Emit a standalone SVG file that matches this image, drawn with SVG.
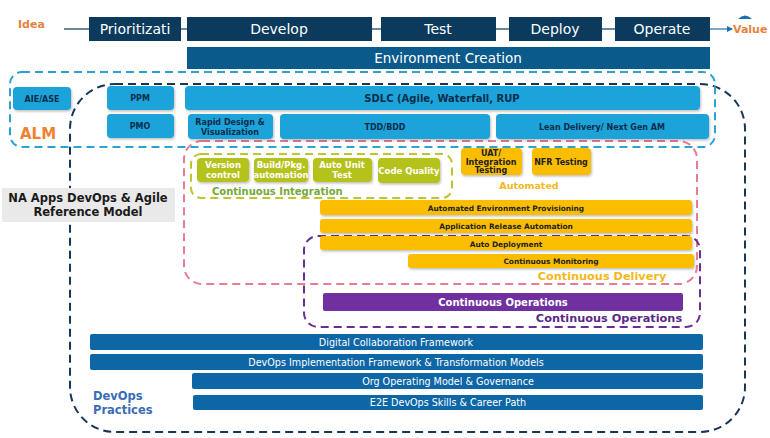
<svg xmlns="http://www.w3.org/2000/svg" width="770" height="438" viewBox="0 0 770 438">
<style>
text{font-family:"DejaVu Sans","Liberation Sans",sans-serif;}
.hdr{fill:#0b3a5d;}
.hdrt{fill:#fff;font-size:14px;text-anchor:middle;}
.lb{fill:#1aa3d9;}
.lbt{fill:#0b2d4a;font-size:8px;font-weight:bold;text-anchor:middle;}
.gr{fill:#b5c21c;}
.grt{fill:#fff;font-size:8.5px;font-weight:bold;text-anchor:middle;}
.ye{fill:#fbbd06;}
.yet{fill:#222;font-size:8px;font-weight:bold;text-anchor:middle;}
.yeb{fill:#222;font-size:7.4px;font-weight:bold;text-anchor:middle;}
.bb{fill:#0d66a6;}
.bbt{fill:#fff;font-size:9.6px;text-anchor:middle;}
.dash{fill:none;stroke-width:2;stroke-dasharray:8 5;}
.conn{stroke:#0b3a5d;stroke-width:1.2;fill:none;}
</style>
<defs>
<marker id="arr" viewBox="0 0 6 6" refX="5" refY="3" markerWidth="5" markerHeight="5" orient="auto"><path d="M0,0 L6,3 L0,6 Z" fill="#1a6fb0"/></marker>
<filter id="sh" x="-5%" y="-20%" width="110%" height="150%"><feDropShadow dx="1" dy="1.5" stdDeviation="0.8" flood-color="#000" flood-opacity="0.25"/></filter>
</defs>
<rect width="770" height="438" fill="#fff"/>

<g id="connectors">
<line class="conn" x1="64" y1="29" x2="89" y2="29"/>
<line class="conn" x1="181" y1="29" x2="187" y2="29"/>
<line class="conn" x1="372" y1="29" x2="381" y2="29"/>
<line class="conn" x1="496" y1="29" x2="509" y2="29"/>
<line class="conn" x1="602" y1="29" x2="615" y2="29"/>
<line x1="710" y1="29" x2="732" y2="29" stroke="#1a6fb0" stroke-width="1.2" marker-end="url(#arr)"/>
</g>

<g id="idea"><text x="18" y="28" font-size="11" font-weight="bold" fill="#e8813a">Idea</text></g>
<g id="value">
<path d="M738,19 Q745,12 752,19 Z" fill="#1a6fb0"/>
<text x="733" y="33" font-size="11" font-weight="bold" fill="#e8813a">Value</text>
</g>

<g id="prioritizati"><rect class="hdr" x="89" y="17" width="92" height="24"/><text class="hdrt" x="135" y="34">Prioritizati</text></g>
<g id="develop"><rect class="hdr" x="187" y="17" width="185" height="24"/><text class="hdrt" x="279" y="34">Develop</text></g>
<g id="test"><rect class="hdr" x="381" y="17" width="115" height="24"/><text class="hdrt" x="438" y="34">Test</text></g>
<g id="deploy"><rect class="hdr" x="509" y="17" width="93" height="24"/><text class="hdrt" x="555" y="34">Deploy</text></g>
<g id="operate"><rect class="hdr" x="615" y="17" width="95" height="24"/><text class="hdrt" x="662" y="34">Operate</text></g>
<g id="env"><rect x="187" y="47" width="523" height="22" fill="#0b5a8c"/><text x="448" y="63" font-size="13.5" fill="#fff" text-anchor="middle">Environment Creation</text></g>

<g id="groups">
<rect id="devops-outline" class="dash" x="70" y="84" width="675" height="348" rx="45" stroke="#17375a"/>
<rect id="alm-outline" class="dash" x="10" y="72" width="705" height="75" rx="12" stroke="#2aa3d3"/>
<rect id="cd-outline" class="dash" x="184" y="141" width="513" height="143" rx="18" stroke="#e97c93"/>
<rect id="ci-outline" class="dash" x="191" y="154" width="261" height="44" rx="10" stroke="#bfc52a"/>
<rect id="co-outline" class="dash" x="304" y="236" width="396" height="91" rx="14" stroke="#6a2d91"/>
</g>

<g id="alm-label"><text x="20" y="139" font-size="15" font-weight="bold" fill="#ee8230">ALM</text></g>
<g id="aie"><rect class="lb" x="13" y="87" width="58" height="23" rx="4" filter="url(#sh)"/><text class="lbt" x="42" y="101.5">AIE/ASE</text></g>
<g id="ppm"><rect class="lb" x="107" y="86" width="67" height="24" rx="4" filter="url(#sh)"/><text class="lbt" x="140" y="101">PPM</text></g>
<g id="pmo"><rect class="lb" x="107" y="114" width="67" height="24" rx="4" filter="url(#sh)"/><text class="lbt" x="140" y="129">PMO</text></g>
<g id="sdlc"><rect class="lb" x="185" y="86" width="515" height="24" rx="4" filter="url(#sh)"/><text x="442" y="101.5" font-size="10" font-weight="bold" fill="#0b2d4a" text-anchor="middle">SDLC (Agile, Waterfall, RUP</text></g>
<g id="rapid"><rect class="lb" x="188" y="114" width="85" height="25" rx="4" filter="url(#sh)"/><text class="lbt" x="230" y="125">Rapid Design &amp;</text><text class="lbt" x="230" y="135">Visualization</text></g>
<g id="tdd"><rect class="lb" x="280" y="114" width="210" height="25" rx="4" filter="url(#sh)"/><text class="lbt" x="385" y="130">TDD/BDD</text></g>
<g id="lean"><rect class="lb" x="496" y="114" width="213" height="25" rx="4" filter="url(#sh)"/><text class="lbt" x="602" y="130">Lean Delivery/ Next Gen AM</text></g>

<g id="na-apps"><rect x="2" y="188" width="173" height="34" fill="#e9e9e9"/><text x="88" y="202" font-size="11.5" font-weight="bold" fill="#1a1a1a" text-anchor="middle">NA Apps DevOps &amp; Agile</text><text x="88" y="216" font-size="11.5" font-weight="bold" fill="#1a1a1a" text-anchor="middle">Reference Model</text></g>

<g id="version"><rect class="gr" x="197" y="158" width="52" height="24" rx="4" filter="url(#sh)"/><text class="grt" x="223" y="168">Version</text><text class="grt" x="223" y="178">control</text></g>
<g id="build"><rect class="gr" x="254" y="158" width="54" height="24" rx="4" filter="url(#sh)"/><text class="grt" x="281" y="168">Build/Pkg.</text><text class="grt" x="281" y="178">automation</text></g>
<g id="autounit"><rect class="gr" x="313" y="158" width="59" height="24" rx="4" filter="url(#sh)"/><text class="grt" x="342" y="168">Auto Unit</text><text class="grt" x="342" y="178">Test</text></g>
<g id="codequality"><rect class="gr" x="378" y="158" width="62" height="25" rx="4" filter="url(#sh)"/><text class="grt" x="409" y="173.5">Code Quality</text></g>
<g id="ci-label"><text x="212" y="195" font-size="10" font-weight="bold" fill="#76a83a">Continuous Integration</text></g>

<g id="uat"><rect class="ye" x="461" y="148" width="61" height="27" rx="4" filter="url(#sh)"/><text class="yet" x="491" y="155.5">UAT/</text><text class="yet" x="491" y="164.5">Integration</text><text class="yet" x="491" y="173">Testing</text></g>
<g id="nfr"><rect class="ye" x="532" y="148" width="59" height="27" rx="4" filter="url(#sh)"/><text class="yet" x="561" y="164.5">NFR Testing</text></g>
<g id="automated-label"><text x="529" y="189" font-size="9.5" font-weight="bold" fill="#f3b81b" text-anchor="middle">Automated</text></g>

<g id="aep"><rect class="ye" x="320" y="200" width="372" height="15" rx="3" filter="url(#sh)"/><text class="yeb" x="506" y="210.5">Automated Environment Provisioning</text></g>
<g id="ara"><rect class="ye" x="320" y="219" width="372" height="14" rx="3" filter="url(#sh)"/><text class="yeb" x="506" y="229">Application Release Automation</text></g>
<g id="autodeploy"><rect class="ye" x="320" y="236" width="372" height="14" rx="3" filter="url(#sh)"/><text class="yeb" x="506" y="246.5">Auto Deployment</text></g>
<g id="contmon"><rect class="ye" x="408" y="254" width="286" height="14" rx="3" filter="url(#sh)"/><text class="yeb" x="551" y="264">Continuous Monitoring</text></g>
<g id="cd-label"><text x="602" y="280" font-size="11.3" font-weight="bold" fill="#f3b81b" text-anchor="middle">Continuous Delivery</text></g>

<g id="contops"><rect x="323" y="293" width="360" height="18" rx="2" fill="#7030a0"/><text x="503" y="305.5" font-size="10" font-weight="bold" fill="#fff" text-anchor="middle">Continuous Operations</text></g>
<g id="co-label"><text x="609" y="322" font-size="11.3" font-weight="bold" fill="#5b2a86" text-anchor="middle">Continuous Operations</text></g>

<g id="digital"><rect class="bb" x="90" y="334" width="613" height="16" rx="2"/><text class="bbt" x="396" y="345.5">Digital Collaboration Framework</text></g>
<g id="impl"><rect class="bb" x="90" y="354" width="613" height="16" rx="2"/><text class="bbt" x="396" y="365.5">DevOps Implementation Framework &amp; Transformation Models</text></g>
<g id="org"><rect class="bb" x="192" y="373" width="511" height="16" rx="2"/><text class="bbt" x="448" y="384.5">Org Operating Model &amp; Governance</text></g>
<g id="e2e"><rect class="bb" x="193" y="395" width="510" height="15" rx="2"/><text class="bbt" x="448" y="406">E2E DevOps Skills &amp; Career Path</text></g>
<g id="practices-label"><text x="93" y="400" font-size="11.5" font-weight="bold" fill="#3a6db5">DevOps</text><text x="93" y="414" font-size="11.5" font-weight="bold" fill="#3a6db5">Practices</text></g>
</svg>
